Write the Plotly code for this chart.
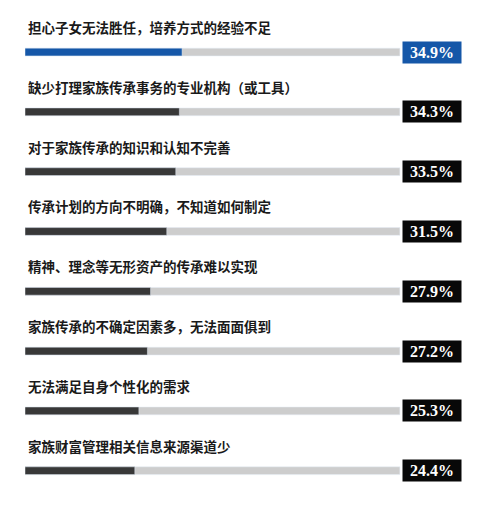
import plotly.graph_objects as go

# Datos
categorias = [
    "担心子女无法胜任，培养方式的经验不足",
    "缺少打理家族传承事务的专业机构（或工具）",
    "对于家族传承的知识和认知不完善",
    "传承计划的方向不明确，不知道如何制定",
    "精神、理念等无形资产的传承难以实现",
    "家族传承的不确定因素多，无法面面俱到",
    "无法满足自身个性化的需求",
    "家族财富管理相关信息来源渠道少",
]
valores = [34.9, 34.3, 33.5, 31.5, 27.9, 27.2, 25.3, 24.4]
etiquetas = [f"{v:.1f}%" for v in valores]

# Estilo
AZUL = "#1557a8"
OSCURO = "#383838"
GRIS = "#cdcdcd"
NEGRO = "#080808"
TOPE = 83.3  # largo de la pista gris en unidades del eje
colores = [AZUL] + [OSCURO] * (len(valores) - 1)
cajas = [AZUL] + [NEGRO] * (len(valores) - 1)
filas = list(range(len(categorias)))

fig = go.Figure()
# Pista gris de fondo
fig.add_trace(go.Bar(x=[TOPE] * len(filas), y=filas, orientation="h",
                     marker_color=GRIS, width=0.13, hoverinfo="skip"))
# Barras de valor
fig.add_trace(go.Bar(x=valores, y=filas, orientation="h",
                     marker_color=colores, width=0.13,
                     hovertext=categorias, hoverinfo="text+x"))

anotaciones = []
for i, (cat, etq, col) in enumerate(zip(categorias, etiquetas, cajas)):
    # Texto de la categoria encima de la barra
    anotaciones.append(dict(
        x=0, y=i, xref="x", yref="y", text=f"<b>{cat}</b>", showarrow=False,
        xanchor="left", yanchor="middle", yshift=25, xshift=1,
        font=dict(family="Noto Sans CJK SC", size=13.5, color="#1a1a1a")))
    # Caja con el porcentaje
    anotaciones.append(dict(
        x=1, y=i, xref="paper", yref="y", text=f"<b>{etq}</b>",
        showarrow=False, xanchor="right", yanchor="middle",
        width=56, height=19, bgcolor=col, align="center",
        font=dict(family="Liberation Serif", size=16, color="white")))

# La pagina agrega 8px de margen al body, se compensa aqui
fig.update_layout(
    width=500, height=518,
    margin=dict(l=17, r=46, t=0, b=0),
    barmode="overlay", showlegend=False,
    plot_bgcolor="white", paper_bgcolor="white",
    xaxis=dict(range=[0, 97.1], visible=False, fixedrange=True),
    yaxis=dict(range=[7.924, -0.736], visible=False, fixedrange=True),
    annotations=anotaciones,
)

fig.write_html("out.html")
